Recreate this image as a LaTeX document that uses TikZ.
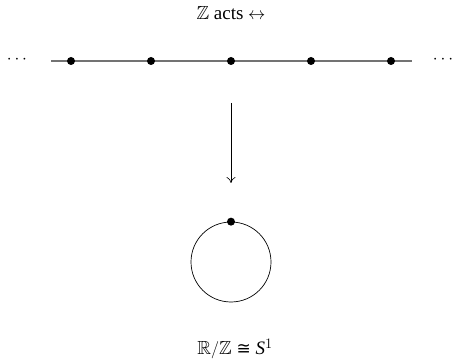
\documentclass[tikz,border=0pt]{standalone}
\usepackage{amssymb}
\usepackage{fontspec}
\setmainfont{Liberation Serif}
\newfontfamily\dvsymfont{DejaVu Sans}
\usetikzlibrary{arrows.meta}
\begin{document}
\begin{tikzpicture}[x=1pt,y=-1pt,
  pt/.style={circle,fill=black,inner sep=0pt,minimum size=8pt},
  lbl/.style={font=\fontsize{19}{22}\selectfont,inner sep=0pt},
  realline/.style={draw=black!55,line width=1.3pt},
  maparrow/.style={-{To[length=6pt,width=9pt]},line width=0.6pt}]
\useasboundingbox (0,0) rectangle (452,363);
\node[lbl] (title) at (231,13) {$\mathbb{Z}$ acts $\leftrightarrow$};
\node[lbl] (ldots) at (17,60) {$\cdots$};
\node[lbl] (rdots) at (443,60) {$\cdots$};
\coordinate (lstart) at (51,61);
\coordinate (lend) at (412,61);
\draw[realline] (lstart) -- (lend);
\foreach \i/\x in {1/71,2/151,3/231,4/311,5/391}{
  \node[pt] (d\i) at (\x,61) {};
}
\coordinate (atop) at (231,103);
\coordinate (abot) at (231,183);
\draw[maparrow] (atop) -- (abot);
\node[circle,draw,line width=0.7pt,minimum size=80pt,inner sep=0pt] (circ) at (231,262) {};
\node[pt] (base) at (circ.north) {};
\node[lbl] (quot) at (235,349) {$\mathbb{R}/\mathbb{Z}$ {\dvsymfont\fontsize{17}{20}\selectfont ≅} \textit{S\/}$^{1}$};
\end{tikzpicture}
\end{document}
